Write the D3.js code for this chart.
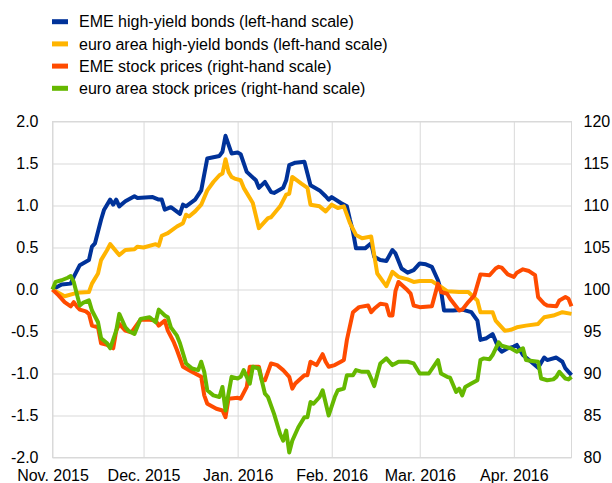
<!DOCTYPE html>
<html>
<head>
<meta charset="utf-8">
<script src="https://cdn.jsdelivr.net/npm/d3@7"></script>
<style>
  body { margin: 0; background: #fff; }
  svg { display: block; font-family: Arial, "Liberation Sans", sans-serif; }
</style>
</head>
<body>
<script>
// series names and colours (legend order = draw order)
var seriesNames = [
  "EME high-yield bonds (left-hand scale)",
  "euro area high-yield bonds (left-hand scale)",
  "EME stock prices (right-hand scale)",
  "euro area stock prices (right-hand scale)"
];
var seriesColors = ["#003299", "#ffb400", "#ff4b00", "#65b800"];

// left-hand scale: EME high-yield bonds
var emeBonds = [
  ["2015-11-01",0.00],["2015-11-04",0.06],["2015-11-07",0.07],["2015-11-08",0.15],["2015-11-10",0.29],
  ["2015-11-13",0.35],["2015-11-14",0.51],["2015-11-15",0.55],["2015-11-17",0.83],["2015-11-18",0.95],
  ["2015-11-20",1.07],["2015-11-21",1.01],["2015-11-22",1.07],["2015-11-23",0.99],["2015-11-25",1.05],
  ["2015-11-28",1.11],["2015-11-29",1.09],["2015-12-04",1.10],["2015-12-06",1.07],["2015-12-07",1.07],
  ["2015-12-08",0.95],["2015-12-10",0.98],["2015-12-13",0.90],["2015-12-14",1.01],["2015-12-15",0.99],
  ["2015-12-18",1.07],["2015-12-20",1.18],["2015-12-22",1.56],["2015-12-26",1.59],["2015-12-27",1.64],
  ["2015-12-28",1.83],["2015-12-30",1.62],["2016-01-01",1.63],["2016-01-02",1.61],["2016-01-04",1.40],
  ["2016-01-07",1.30],["2016-01-08",1.21],["2016-01-10",1.28],["2016-01-12",1.16],["2016-01-13",1.15],
  ["2016-01-16",1.21],["2016-01-17",1.30],["2016-01-18",1.48],["2016-01-20",1.51],["2016-01-23",1.52],
  ["2016-01-24",1.38],["2016-01-25",1.24],["2016-01-28",1.18],["2016-01-30",1.11],["2016-01-31",1.07],
  ["2016-02-01",1.10],["2016-02-04",1.03],["2016-02-06",0.99],["2016-02-07",0.83],["2016-02-08",0.69],
  ["2016-02-09",0.49],["2016-02-12",0.49],["2016-02-14",0.55],["2016-02-15",0.39],["2016-02-17",0.35],
  ["2016-02-19",0.34],["2016-02-21",0.47],["2016-02-22",0.43],["2016-02-24",0.25],["2016-02-26",0.20],
  ["2016-02-28",0.23],["2016-03-01",0.31],["2016-03-03",0.30],["2016-03-05",0.27],["2016-03-07",0.11],
  ["2016-03-08",-0.01],["2016-03-09",-0.25],["2016-03-12",-0.25],["2016-03-15",-0.24],["2016-03-18",-0.27],
  ["2016-03-20",-0.37],["2016-03-21",-0.60],["2016-03-23",-0.58],["2016-03-25",-0.53],["2016-03-27",-0.70],
  ["2016-03-28",-0.74],["2016-03-30",-0.70],["2016-04-01",-0.68],["2016-04-02",-0.66],["2016-04-04",-0.78],
  ["2016-04-06",-0.84],["2016-04-09",-0.93],["2016-04-11",-0.81],["2016-04-12",-0.84],["2016-04-15",-0.81],
  ["2016-04-17",-0.86],["2016-04-18",-0.94],["2016-04-20",-1.02]
];

// left-hand scale: euro area high-yield bonds
var euroBonds = [
  ["2015-11-01",0.00],["2015-11-05",-0.08],["2015-11-09",-0.04],["2015-11-13",-0.03],["2015-11-14",0.07],
  ["2015-11-16",0.19],["2015-11-17",0.35],["2015-11-19",0.47],["2015-11-20",0.54],["2015-11-23",0.41],
  ["2015-11-25",0.47],["2015-11-28",0.48],["2015-11-29",0.51],["2015-12-01",0.50],["2015-12-05",0.54],
  ["2015-12-06",0.52],["2015-12-07",0.64],["2015-12-09",0.67],["2015-12-12",0.75],["2015-12-14",0.79],
  ["2015-12-15",0.89],["2015-12-16",0.87],["2015-12-18",0.93],["2015-12-20",1.01],["2015-12-22",1.18],
  ["2015-12-24",1.28],["2015-12-26",1.36],["2015-12-27",1.38],["2015-12-28",1.55],["2015-12-29",1.40],
  ["2015-12-30",1.34],["2015-12-31",1.32],["2016-01-02",1.30],["2016-01-03",1.21],["2016-01-06",1.03],
  ["2016-01-08",0.73],["2016-01-11",0.85],["2016-01-12",0.86],["2016-01-15",0.99],["2016-01-17",1.13],
  ["2016-01-18",1.14],["2016-01-19",1.34],["2016-01-22",1.26],["2016-01-24",1.21],["2016-01-25",1.01],
  ["2016-01-28",0.99],["2016-01-30",0.93],["2016-02-01",1.01],["2016-02-03",0.97],["2016-02-05",0.99],
  ["2016-02-07",0.79],["2016-02-09",0.65],["2016-02-11",0.61],["2016-02-14",0.63],["2016-02-16",0.19],
  ["2016-02-19",0.04],["2016-02-21",0.21],["2016-02-23",0.15],["2016-02-26",0.12],["2016-02-28",0.09],
  ["2016-03-01",0.10],["2016-03-05",0.10],["2016-03-08",0.03],["2016-03-10",-0.02],["2016-03-14",-0.03],
  ["2016-03-17",-0.03],["2016-03-20",-0.13],["2016-03-21",-0.27],["2016-03-25",-0.27],["2016-03-26",-0.37],
  ["2016-03-29",-0.49],["2016-03-31",-0.48],["2016-04-02",-0.45],["2016-04-05",-0.43],["2016-04-09",-0.41],
  ["2016-04-11",-0.33],["2016-04-14",-0.31],["2016-04-17",-0.27],["2016-04-20",-0.29]
];

// right-hand scale: EME stock prices
var emeStocks = [
  ["2015-11-01",100.0],["2015-11-03",99.3],["2015-11-05",98.5],["2015-11-07",98.0],["2015-11-08",98.5],
  ["2015-11-09",98.0],["2015-11-10",97.6],["2015-11-12",97.4],["2015-11-13",97.1],["2015-11-14",95.7],
  ["2015-11-16",95.5],["2015-11-17",93.6],["2015-11-19",93.4],["2015-11-21",93.0],["2015-11-22",95.1],
  ["2015-11-23",95.9],["2015-11-25",95.1],["2015-11-27",94.9],["2015-11-29",95.9],["2015-11-30",96.4],
  ["2015-12-03",96.4],["2015-12-05",96.3],["2015-12-06",95.7],["2015-12-08",96.3],["2015-12-09",95.1],
  ["2015-12-11",93.7],["2015-12-12",92.8],["2015-12-14",90.8],["2015-12-16",90.4],["2015-12-18",90.0],
  ["2015-12-20",89.6],["2015-12-21",87.4],["2015-12-22",86.4],["2015-12-25",85.8],["2015-12-27",85.6],
  ["2015-12-28",84.8],["2015-12-29",87.0],["2016-01-01",87.1],["2016-01-02",87.0],["2016-01-04",88.4],
  ["2016-01-05",90.8],["2016-01-08",90.8],["2016-01-09",89.2],["2016-01-10",89.2],["2016-01-12",91.2],
  ["2016-01-14",91.0],["2016-01-16",90.4],["2016-01-18",89.6],["2016-01-19",88.2],["2016-01-20",88.8],
  ["2016-01-23",89.8],["2016-01-24",89.8],["2016-01-25",91.4],["2016-01-27",91.0],["2016-01-29",92.3],
  ["2016-01-30",91.4],["2016-01-31",90.8],["2016-02-02",91.0],["2016-02-04",91.4],["2016-02-05",91.6],
  ["2016-02-06",94.0],["2016-02-08",97.3],["2016-02-10",97.9],["2016-02-13",98.1],["2016-02-14",97.3],
  ["2016-02-15",97.7],["2016-02-17",98.3],["2016-02-19",98.2],["2016-02-20",96.9],["2016-02-21",96.9],
  ["2016-02-22",99.8],["2016-02-23",100.9],["2016-02-26",99.9],["2016-02-27",99.5],["2016-02-28",98.1],
  ["2016-03-01",97.9],["2016-03-05",98.0],["2016-03-07",100.7],["2016-03-08",99.7],["2016-03-10",99.5],
  ["2016-03-11",98.9],["2016-03-14",97.5],["2016-03-15",97.6],["2016-03-17",98.5],["2016-03-19",99.3],
  ["2016-03-21",101.8],["2016-03-24",101.7],["2016-03-26",102.5],["2016-03-27",102.7],["2016-03-28",102.6],
  ["2016-03-30",101.8],["2016-04-01",101.5],["2016-04-02",102.0],["2016-04-04",102.4],["2016-04-06",102.2],
  ["2016-04-08",101.7],["2016-04-09",99.1],["2016-04-11",98.3],["2016-04-12",98.1],["2016-04-15",98.0],
  ["2016-04-16",98.7],["2016-04-18",99.1],["2016-04-19",98.9],["2016-04-20",98.0]
];

// right-hand scale: euro area stock prices
var euroStocks = [
  ["2015-11-01",100.0],["2015-11-02",100.9],["2015-11-04",101.1],["2015-11-06",101.4],["2015-11-07",101.6],
  ["2015-11-08",100.9],["2015-11-10",98.1],["2015-11-11",98.4],["2015-11-13",98.7],["2015-11-14",97.5],
  ["2015-11-16",96.1],["2015-11-17",94.2],["2015-11-19",93.6],["2015-11-20",93.0],["2015-11-22",95.1],
  ["2015-11-23",97.1],["2015-11-25",95.5],["2015-11-26",95.1],["2015-11-28",94.7],["2015-11-30",96.5],
  ["2015-12-03",96.7],["2015-12-05",96.1],["2015-12-06",97.6],["2015-12-08",96.9],["2015-12-09",96.7],
  ["2015-12-10",95.5],["2015-12-12",94.5],["2015-12-13",93.6],["2015-12-15",91.2],["2015-12-17",90.6],
  ["2015-12-19",90.4],["2015-12-20",91.4],["2015-12-21",90.2],["2015-12-22",88.0],["2015-12-24",87.4],
  ["2015-12-26",87.2],["2015-12-27",88.4],["2015-12-28",85.6],["2015-12-30",89.6],["2016-01-01",89.4],
  ["2016-01-02",89.6],["2016-01-03",90.4],["2016-01-05",88.8],["2016-01-06",90.8],["2016-01-08",90.6],
  ["2016-01-10",87.6],["2016-01-11",87.2],["2016-01-13",85.2],["2016-01-15",82.8],["2016-01-16",82.0],
  ["2016-01-17",83.2],["2016-01-18",80.6],["2016-01-19",82.0],["2016-01-21",83.6],["2016-01-23",84.8],
  ["2016-01-24",84.8],["2016-01-25",86.6],["2016-01-26",86.4],["2016-01-28",87.2],["2016-01-29",88.0],
  ["2016-01-31",85.0],["2016-02-02",87.2],["2016-02-03",88.0],["2016-02-05",88.2],["2016-02-06",89.8],
  ["2016-02-08",89.8],["2016-02-09",90.4],["2016-02-11",90.2],["2016-02-13",90.2],["2016-02-14",89.4],
  ["2016-02-15",88.5],["2016-02-17",91.2],["2016-02-19",91.8],["2016-02-21",91.0],["2016-02-22",91.2],
  ["2016-02-23",91.4],["2016-02-26",91.4],["2016-02-28",91.2],["2016-03-01",90.0],["2016-03-04",90.0],
  ["2016-03-07",91.6],["2016-03-08",90.0],["2016-03-10",89.6],["2016-03-11",89.5],["2016-03-13",87.8],
  ["2016-03-14",88.2],["2016-03-15",87.4],["2016-03-16",88.4],["2016-03-18",88.8],["2016-03-20",89.2],
  ["2016-03-21",91.6],["2016-03-22",91.8],["2016-03-24",91.7],["2016-03-25",92.2],["2016-03-27",93.7],
  ["2016-03-28",93.3],["2016-03-31",93.0],["2016-04-02",92.6],["2016-04-04",93.0],["2016-04-05",91.6],
  ["2016-04-07",91.5],["2016-04-09",91.4],["2016-04-10",89.4],["2016-04-12",89.2],["2016-04-14",89.3],
  ["2016-04-15",89.6],["2016-04-16",90.2],["2016-04-18",89.4],["2016-04-19",89.3],["2016-04-20",89.6]
];

// axis ticks
var leftTicks = [-2.0, -1.5, -1.0, -0.5, 0.0, 0.5, 1.0, 1.5, 2.0];
var rightTicks = [80, 85, 90, 95, 100, 105, 110, 115, 120];
var monthTicks = ["2015-11-01","2015-12-01","2016-01-01","2016-02-01","2016-03-01","2016-04-01"];
var monthLabels = ["Nov. 2015","Dec. 2015","Jan. 2016","Feb. 2016","Mar. 2016","Apr. 2016"];
var xStart = "2015-11-01", xEnd = "2016-04-20";

var parse = d3.timeParse("%Y-%m-%d");
var width = 612, height = 483;
var plotL = 52.5, plotR = 571.5, plotT = 121.5, plotB = 457.5;
var grid = "#d9d9d9";

var svg = d3.select("body").append("svg")
    .attr("width", width)
    .attr("height", height);

var x = d3.scaleTime()
    .domain([parse(xStart), parse(xEnd)])
    .range([plotL, plotR]);
var yLeft = d3.scaleLinear().domain([-2, 2]).range([plotB, plotT]);
var yRight = d3.scaleLinear().domain([80, 120]).range([plotB, plotT]);

// gridlines + labels through the axes
var gx = svg.append("g")
    .attr("transform", "translate(0," + plotB + ")")
    .call(d3.axisBottom(x)
      .tickValues(monthTicks.map(parse))
      .tickFormat(function(d, i){ return monthLabels[i]; })
      .tickSize(-(plotB - plotT))
      .tickPadding(12.5));

var gl = svg.append("g")
    .attr("transform", "translate(" + plotL + ",0)")
    .call(d3.axisLeft(yLeft)
      .tickValues(leftTicks)
      .tickFormat(function(d){ return d.toFixed(1); })
      .tickSize(-(plotR - plotL))
      .tickPadding(14));

var gr = svg.append("g")
    .attr("transform", "translate(" + plotR + ",0)")
    .call(d3.axisRight(yRight)
      .tickValues(rightTicks)
      .tickSize(0)
      .tickPadding(12));

[gx, gl, gr].forEach(function(g){
  g.select(".domain").remove();
  g.selectAll(".tick line").attr("stroke", grid);
  g.selectAll(".tick text")
    .attr("fill", "#000")
    .style("font-size", "16px")
    .style("font-family", "Arial, 'Liberation Sans', sans-serif");
});

// plot frame
svg.append("rect")
    .attr("x", plotL).attr("y", plotT)
    .attr("width", plotR - plotL).attr("height", plotB - plotT)
    .attr("fill", "none")
    .attr("stroke", grid);

var lineLeft = d3.line()
    .x(function(d){ return x(parse(d[0])); })
    .y(function(d){ return yLeft(d[1]); });
var lineRight = d3.line()
    .x(function(d){ return x(parse(d[0])); })
    .y(function(d){ return yRight(d[1]); });

var series = [
  {data: emeBonds, line: lineLeft},
  {data: euroBonds, line: lineLeft},
  {data: emeStocks, line: lineRight},
  {data: euroStocks, line: lineRight}
];

svg.append("g").selectAll("path")
  .data(series)
  .join("path")
    .attr("d", function(s){ return s.line(s.data); })
    .attr("fill", "none")
    .attr("stroke", function(s, i){ return seriesColors[i]; })
    .attr("stroke-width", 4)
    .attr("stroke-linejoin", "round");

// legend
var rows = svg.append("g").selectAll("g")
  .data(seriesNames)
  .join("g")
    .attr("transform", function(d, i){ return "translate(52," + (21.7 + i * 22.2) + ")"; });
rows.append("rect")
    .attr("x", 0).attr("y", -2.5)
    .attr("width", 16).attr("height", 5)
    .attr("fill", function(d, i){ return seriesColors[i]; });
rows.append("text")
    .attr("x", 27)
    .attr("dy", "0.35em")
    .style("font-size", "16px")
    .attr("fill", "#000")
    .text(function(d){ return d; });
</script>
</body>
</html>
